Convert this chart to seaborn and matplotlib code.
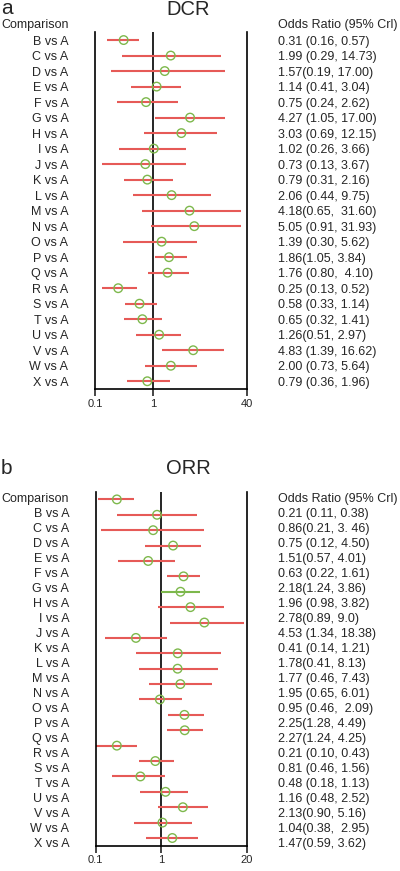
import numpy as np
import pandas as pd
import seaborn as sns
import matplotlib.pyplot as plt

# data
groups = ["B", "C", "D", "E", "F", "G", "H", "I", "J", "K", "L", "M",
          "N", "O", "P", "Q", "R", "S", "T", "U", "V", "W", "X"]

dcr_or = [0.31, 1.99, 1.57, 1.14, 0.75, 4.27, 3.03, 1.02, 0.73, 0.79, 2.06, 4.18,
          5.05, 1.39, 1.86, 1.76, 0.25, 0.58, 0.65, 1.26, 4.83, 2.00, 0.79]
dcr_lo = [0.16, 0.29, 0.19, 0.41, 0.24, 1.05, 0.69, 0.26, 0.13, 0.31, 0.44, 0.65,
          0.91, 0.30, 1.05, 0.80, 0.13, 0.33, 0.32, 0.51, 1.39, 0.73, 0.36]
dcr_hi = [0.57, 14.73, 17.00, 3.04, 2.62, 17.00, 12.15, 3.66, 3.67, 2.16, 9.75, 31.60,
          31.93, 5.62, 3.84, 4.10, 0.52, 1.14, 1.41, 2.97, 16.62, 5.64, 1.96]
dcr_text = ["0.31 (0.16, 0.57)", "1.99 (0.29, 14.73)", "1.57(0.19, 17.00)",
            "1.14 (0.41, 3.04)", "0.75 (0.24, 2.62)", "4.27 (1.05, 17.00)",
            "3.03 (0.69, 12.15)", "1.02 (0.26, 3.66)", "0.73 (0.13, 3.67)",
            "0.79 (0.31, 2.16)", "2.06 (0.44, 9.75)", "4.18(0.65,  31.60)",
            "5.05 (0.91, 31.93)", "1.39 (0.30, 5.62)", "1.86(1.05, 3.84)",
            "1.76 (0.80,  4.10)", "0.25 (0.13, 0.52)", "0.58 (0.33, 1.14)",
            "0.65 (0.32, 1.41)", "1.26(0.51, 2.97)", "4.83 (1.39, 16.62)",
            "2.00 (0.73, 5.64)", "0.79 (0.36, 1.96)"]

orr_or = [0.21, 0.86, 0.75, 1.51, 0.63, 2.18, 1.96, 2.78, 4.53, 0.41, 1.78, 1.77,
          1.95, 0.95, 2.25, 2.27, 0.21, 0.81, 0.48, 1.16, 2.13, 1.04, 1.47]
orr_lo = [0.11, 0.21, 0.12, 0.57, 0.22, 1.24, 0.98, 0.89, 1.34, 0.14, 0.41, 0.46,
          0.65, 0.46, 1.28, 1.24, 0.10, 0.46, 0.18, 0.48, 0.90, 0.38, 0.59]
orr_hi = [0.38, 3.46, 4.50, 4.01, 1.61, 3.86, 3.82, 9.0, 18.38, 1.21, 8.13, 7.43,
          6.01, 2.09, 4.49, 4.25, 0.43, 1.56, 1.13, 2.52, 5.16, 2.95, 3.62]
orr_text = ["0.21 (0.11, 0.38)", "0.86(0.21, 3. 46)", "0.75 (0.12, 4.50)",
            "1.51(0.57, 4.01)", "0.63 (0.22, 1.61)", "2.18(1.24, 3.86)",
            "1.96 (0.98, 3.82)", "2.78(0.89, 9.0)", "4.53 (1.34, 18.38)",
            "0.41 (0.14, 1.21)", "1.78(0.41, 8.13)", "1.77 (0.46, 7.43)",
            "1.95 (0.65, 6.01)", "0.95 (0.46,  2.09)", "2.25(1.28, 4.49)",
            "2.27(1.24, 4.25)", "0.21 (0.10, 0.43)", "0.81 (0.46, 1.56)",
            "0.48 (0.18, 1.13)", "1.16 (0.48, 2.52)", "2.13(0.90, 5.16)",
            "1.04(0.38,  2.95)", "1.47(0.59, 3.62)"]
# the H line in ORR is drawn green in the original
orr_green = ["H"]

RED = "#e65a57"
GREEN = "#7db84c"

sns.set_style("white")
plt.rcParams['font.family'] = ['Liberation Sans', 'DejaVu Sans']

fig = plt.figure(figsize=(4, 8.71), dpi=100)
W, H = 400, 871
FS = 9.0


def forest(ax, df, xmax, ticks, green_rows=()):
    n = len(df)
    for i, r in df.iterrows():
        c = GREEN if r["group"] in green_rows else RED
        ax.hlines(r["row"], r["lo"], r["hi"], color=c, lw=1.5, zorder=2)
    sns.scatterplot(data=df, x="or", y="row", ax=ax, marker="o", s=38,
                    fc="none", ec=GREEN, linewidth=1.0, zorder=3, legend=False)
    ax.axvline(1, color="black", lw=1.2, zorder=1)
    ax.set_xscale("log")
    ax.set_xlim(0.1, xmax)
    ax.set_ylim(n - 0.5, -0.5)
    for s in ["left", "right", "bottom"]:
        ax.spines[s].set_color("black")
        ax.spines[s].set_linewidth(1.2)
    ax.spines["top"].set_visible(False)
    ax.set_xticks(ticks)
    ax.set_xticklabels([f"{t:g}" for t in ticks], fontsize=8)
    ax.xaxis.set_minor_locator(plt.NullLocator())
    ax.tick_params(axis="x", direction="out", length=5, width=1.2, pad=2, bottom=True)
    ax.set_yticks([])
    ax.set_xlabel("")
    ax.set_ylabel("")


def row_texts(ax, rows, labels, values, header_row):
    tr = ax.get_yaxis_transform()
    ax.text(-0.175, header_row, "Comparison", transform=tr, ha="right", va="center", fontsize=FS)
    ax.text(1.205, header_row, "Odds Ratio (95% Crl)", transform=tr, ha="left", va="center", fontsize=FS)
    for y, lab, val in zip(rows, labels, values):
        ax.text(-0.175, y, f"{lab} vs A", transform=tr, ha="right", va="center", fontsize=FS)
        ax.text(1.205, y, val, transform=tr, ha="left", va="center", fontsize=FS)


# panel a: DCR
ax1 = fig.add_axes([95 / W, 1 - 389 / H, 151.7 / W, 356.7 / H])
dcr = pd.DataFrame({"group": groups, "or": dcr_or, "lo": dcr_lo, "hi": dcr_hi,
                    "row": np.arange(len(groups))})
forest(ax1, dcr, 40, [0.1, 1, 40])
row_texts(ax1, dcr["row"] + 0.1, groups, dcr_text, -1)
fig.text(1 / W, 1 - 14 / H, "a", fontsize=15, ha="left", va="baseline")
fig.text(188 / W, 1 - 15 / H, "DCR", fontsize=14.5, ha="center", va="baseline")

# panel b: ORR (text column is offset by one row from the marks, as in the original)
ax2 = fig.add_axes([95.7 / W, 1 - 845.7 / H, 151 / W, 354 / H])
orr = pd.DataFrame({"group": groups, "or": orr_or, "lo": orr_lo, "hi": orr_hi,
                    "row": np.arange(len(groups))})
forest(ax2, orr, 20, [0.1, 1, 20], green_rows=orr_green)
text_step = 15.0 / 15.39
row_texts(ax2, (np.arange(len(groups)) + 1) * text_step, groups, orr_text, 0)
fig.text(1 / W, 1 - 474 / H, "b", fontsize=15, ha="left", va="baseline")
fig.text(188 / W, 1 - 474 / H, "ORR", fontsize=14.5, ha="center", va="baseline")

fig.savefig("out.png", dpi=100)
